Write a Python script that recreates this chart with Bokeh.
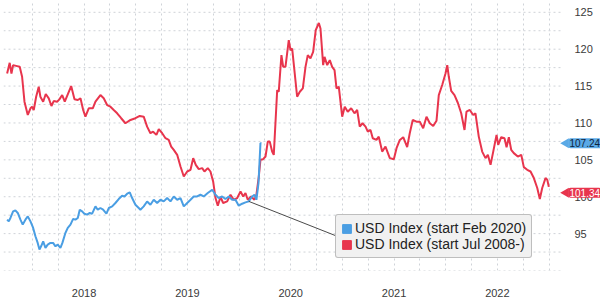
import math
from bokeh.plotting import figure
from bokeh.models import (FixedTicker, Range1d, Legend, LegendItem, Label, Arrow,
                          CustomJSTickFormatter)
from bokeh.core.properties import value
from bokeh.embed import file_html
from bokeh.resources import INLINE

# ---------------- data (decimal years, index level) ----------------
red_x = [2017.755, 2017.780, 2017.797, 2017.813, 2017.852, 2017.877, 2017.900, 2017.923, 2017.955, 2017.981,
         2017.997, 2018.013, 2018.036, 2018.061, 2018.077, 2018.104, 2018.129, 2018.158, 2018.184, 2018.206,
         2018.239, 2018.261, 2018.288, 2018.313, 2018.346, 2018.375, 2018.407, 2018.439, 2018.465, 2018.491,
         2018.513, 2018.545, 2018.584, 2018.610, 2018.658, 2018.690, 2018.723, 2018.755, 2018.787, 2018.820,
         2018.859, 2018.900, 2018.949, 2018.997, 2019.039, 2019.077, 2019.110, 2019.142, 2019.168, 2019.200,
         2019.223, 2019.256, 2019.288, 2019.319, 2019.343, 2019.368, 2019.401, 2019.433, 2019.465, 2019.498,
         2019.530, 2019.556, 2019.581, 2019.610, 2019.643, 2019.665, 2019.697, 2019.723, 2019.749, 2019.772,
         2019.794, 2019.820, 2019.846, 2019.885, 2019.917, 2019.949, 2019.982, 2020.014, 2020.040, 2020.062,
         2020.084, 2020.117, 2020.149, 2020.168, 2020.191, 2020.207, 2020.233, 2020.256, 2020.278, 2020.297,
         2020.320, 2020.336, 2020.369, 2020.384, 2020.410, 2020.427, 2020.449, 2020.481, 2020.498, 2020.514,
         2020.562, 2020.588, 2020.617, 2020.643, 2020.665, 2020.691, 2020.717, 2020.742, 2020.772, 2020.788,
         2020.814, 2020.827, 2020.853, 2020.878, 2020.901, 2020.924, 2020.943, 2020.965, 2020.998, 2021.023,
         2021.052, 2021.085, 2021.117, 2021.143, 2021.168, 2021.195, 2021.224, 2021.246, 2021.272, 2021.294,
         2021.330, 2021.352, 2021.385, 2021.417, 2021.459, 2021.498, 2021.524, 2021.556, 2021.589, 2021.627,
         2021.652, 2021.681, 2021.717, 2021.749, 2021.782, 2021.814, 2021.846, 2021.879, 2021.911, 2021.933,
         2021.966, 2021.998, 2022.015, 2022.030, 2022.053, 2022.085, 2022.117, 2022.150, 2022.182, 2022.201,
         2022.233, 2022.266, 2022.288, 2022.320, 2022.353, 2022.385, 2022.408, 2022.434, 2022.460, 2022.492,
         2022.508, 2022.537, 2022.569, 2022.589, 2022.611, 2022.634, 2022.659, 2022.698, 2022.731, 2022.756,
         2022.789, 2022.821, 2022.853, 2022.886, 2022.911, 2022.934, 2022.966, 2022.983, 2022.998]
red_y = [116.70, 118.15, 116.70, 117.84, 117.70, 117.61, 116.26, 112.88, 111.08, 111.99,
         112.20, 111.76, 113.55, 114.91, 113.55, 112.88, 113.92, 113.34, 112.30, 112.97,
         112.88, 113.20, 113.78, 112.88, 114.01, 115.00, 113.20, 113.11, 113.34, 111.76,
         110.85, 111.99, 111.99, 112.88, 113.78, 113.34, 112.43, 112.20, 111.76, 111.31,
         110.64, 109.96, 110.41, 110.64, 110.95, 110.85, 109.50, 108.61, 108.82, 108.38,
         109.15, 108.61, 107.93, 107.70, 106.80, 106.35, 105.68, 104.09, 102.74, 103.42,
         103.65, 105.23, 104.32, 103.74, 103.88, 103.42, 103.88, 103.42, 102.07, 99.82,
         98.78, 99.96, 99.15, 99.37, 100.27, 99.59, 99.82, 100.72, 100.04, 100.50,
         99.59, 100.04, 99.59, 100.27, 102.74, 105.00, 105.09, 105.45, 107.47, 107.47,
         106.12, 105.68, 114.46, 114.23, 119.19, 117.61, 117.61, 121.22, 119.86, 120.09,
         113.55, 114.23, 114.69, 117.61, 119.19, 118.74, 119.64, 122.57, 123.55, 122.80,
         117.84, 118.96, 117.84, 118.51, 117.61, 117.16, 114.69, 114.91, 110.85, 112.20,
         111.53, 111.99, 111.31, 111.76, 109.50, 109.96, 109.50, 108.82, 109.05, 107.93,
         107.70, 108.15, 106.12, 106.80, 105.23, 105.09, 106.58, 107.70, 108.07, 106.72,
         108.61, 110.41, 110.18, 110.18, 109.28, 110.85, 109.96, 109.59, 110.31, 113.78,
         115.14, 116.70, 117.84, 116.26, 114.36, 113.78, 112.74, 111.31, 109.05, 111.53,
         111.76, 111.08, 111.31, 108.15, 106.12, 105.23, 105.68, 104.32, 106.12, 108.38,
         107.03, 108.07, 107.93, 106.72, 108.07, 106.35, 105.91, 105.45, 105.68, 104.01,
         103.65, 103.42, 102.53, 101.18, 99.69, 101.18, 102.53, 102.30, 101.34]

blue_x = [2017.755, 2017.771, 2017.787, 2017.813, 2017.835, 2017.858, 2017.884, 2017.906, 2017.932, 2017.955,
          2017.981, 2018.007, 2018.029, 2018.051, 2018.068, 2018.084, 2018.104, 2018.126, 2018.148, 2018.174,
          2018.200, 2018.223, 2018.245, 2018.271, 2018.290, 2018.319, 2018.342, 2018.368, 2018.394, 2018.416,
          2018.439, 2018.458, 2018.481, 2018.503, 2018.530, 2018.555, 2018.578, 2018.610, 2018.632, 2018.658,
          2018.684, 2018.716, 2018.739, 2018.772, 2018.803, 2018.835, 2018.868, 2018.891, 2018.917, 2018.942,
          2018.965, 2018.997, 2019.029, 2019.045, 2019.077, 2019.110, 2019.142, 2019.174, 2019.207, 2019.239,
          2019.271, 2019.304, 2019.336, 2019.368, 2019.401, 2019.433, 2019.465, 2019.498, 2019.530, 2019.561,
          2019.594, 2019.626, 2019.658, 2019.697, 2019.740, 2019.772, 2019.803, 2019.836, 2019.868, 2019.900,
          2019.933, 2019.965, 2019.997, 2020.030, 2020.062, 2020.094, 2020.127, 2020.149, 2020.168, 2020.188,
          2020.207, 2020.217]
blue_y = [96.89, 96.66, 97.12, 98.01, 98.15, 97.80, 96.89, 96.22, 96.89, 97.34,
          96.66, 95.77, 94.64, 93.74, 92.84, 93.28, 93.96, 93.07, 93.51, 93.74,
          93.74, 93.28, 93.51, 93.07, 93.74, 95.09, 95.77, 96.22, 96.99, 96.89,
          97.12, 98.24, 98.01, 97.70, 97.57, 97.80, 97.70, 98.69, 98.24, 98.47,
          98.24, 97.70, 98.47, 98.69, 99.15, 99.69, 100.14, 100.04, 100.41, 100.58,
          99.82, 98.92, 98.47, 98.24, 98.69, 99.36, 98.92, 99.59, 99.15, 99.59,
          99.37, 99.82, 99.37, 100.04, 99.59, 99.82, 98.69, 99.15, 99.59, 100.04,
          100.04, 100.27, 100.04, 100.50, 100.95, 100.27, 99.82, 100.04, 99.69, 100.04,
          99.59, 99.59, 98.78, 99.05, 99.23, 99.37, 100.04, 100.27, 99.59, 101.85,
          107.26, 107.24]

series_labels = ["USD Index (start Feb 2020)", "USD Index (start Jul 2008-)"]
last_values = ["107.24", "101.34"]
year_ticks = [2018.5, 2019.5, 2020.5, 2021.5, 2022.5]
y_ticks = [95, 100, 105, 110, 115, 120, 125]
y_tick_labels = ["95", "100", "105", "110", "115", "120", "125"]

BLUE = "#4a9ee3"
RED = "#e8354d"
FONT = "Liberation Sans"
GRID = "#cfd3d8"

W, H = 600, 302
LEFT, BOTTOM = 3, 32
X0 = 2017.72          # left edge of the plotting area
XG = 2023.14          # right end of the grid (value-axis side)
PX_PER_YEAR = 103.32
PX_PER_UNIT = 7.38
X1 = X0 + (W - LEFT) / PX_PER_YEAR
Y0, Y1 = 90, 126.6

p = figure(width=W, height=H, output_backend="svg", toolbar_location=None,
           x_range=Range1d(X0, X1), y_range=Range1d(Y0, Y1),
           y_axis_location=None,
           min_border_left=LEFT, min_border_right=0, min_border_top=0, min_border_bottom=BOTTOM)
p.outline_line_color = None
p.background_fill_color = "white"
p.border_fill_color = "white"

# vertical grid (quarters)
p.xgrid.ticker = FixedTicker(ticks=[2018 + 0.25 * i for i in range(21)])
p.xgrid.grid_line_color = GRID
p.xgrid.grid_line_dash = "2 3"
p.xgrid.grid_line_width = 1
# horizontal grid, stopping at the value axis
p.ygrid.visible = False
hgrid = [90 + 2.5 * i for i in range(15)]
p.segment(x0=[X0] * len(hgrid), x1=[XG] * len(hgrid), y0=hgrid, y1=hgrid,
          line_color=GRID, line_width=1, line_dash="2 3")

# x axis: year labels centred on each year
p.xaxis.ticker = FixedTicker(ticks=year_ticks)
p.xaxis.formatter = CustomJSTickFormatter(code="return Math.floor(tick).toString();")
p.xaxis.axis_line_color = None
p.xaxis.major_tick_line_color = None
p.xaxis.minor_tick_line_color = None
p.xaxis.major_label_text_font = FONT
p.xaxis.major_label_text_font_size = "11px"
p.xaxis.major_label_text_color = "#3a3a3a"
p.xaxis.major_label_standoff = 12

# value axis labels on the right
p.text(x=[XG] * len(y_ticks), y=y_ticks, text=y_tick_labels, x_offset=11,
       text_baseline="middle", text_align="left", text_font=value(FONT),
       text_font_size="11px", text_color="#3a3a3a")

# lines
p.line(red_x, red_y, line_color=RED, line_width=2)
p.line(blue_x, blue_y, line_color=BLUE, line_width=2)

# connector from the series start to the legend
p.add_layout(Arrow(end=None, x_start=blue_x[85], y_start=blue_y[85],
                   x_end=2020.933, y_end=94.73, line_color="#4a4a4a", line_width=1))

# legend (square swatches; swatch renderers hold one point far below the visible range)
sq_b = p.quad(left=[blue_x[0]], right=[blue_x[1]], bottom=[Y0 - 60], top=[Y0 - 50],
              fill_color=BLUE, line_color=BLUE)
sq_r = p.quad(left=[red_x[0]], right=[red_x[1]], bottom=[Y0 - 60], top=[Y0 - 50],
              fill_color=RED, line_color=RED)
legend = Legend(items=[LegendItem(label=series_labels[0], renderers=[sq_b]),
                       LegendItem(label=series_labels[1], renderers=[sq_r])],
                location=(332, 12), orientation="vertical",
                background_fill_color="#f1f1f1", background_fill_alpha=1.0,
                border_line_color="#8c8c8c", border_line_width=1, border_radius=3,
                label_text_font=FONT, label_text_font_size="14px", label_text_color="#222222",
                glyph_width=11, glyph_height=11, label_height=16, label_standoff=3,
                spacing=0, padding=5, margin=0)
p.add_layout(legend)

# last value tags with a left-pointing tip
RED_TAG_SHIFT = 6  # px, the red tag sits slightly below its value
tip_x = XG + 2.5 / PX_PER_YEAR
p.scatter(x=[tip_x, tip_x], y=[blue_y[-1], red_y[-1] - RED_TAG_SHIFT / PX_PER_UNIT],
          marker="triangle", angle=math.pi / 2, size=10,
          fill_color=["#5aa9e6", RED], line_color=None)
p.add_layout(Label(x=XG, y=blue_y[-1], text=last_values[0], x_offset=5,
                   text_baseline="middle", text_align="left", text_font=FONT,
                   text_font_size="10px", text_color="#10243a",
                   background_fill_color="#5aa9e6", border_line_color=None,
                   padding=1, border_radius=2))
p.add_layout(Label(x=XG, y=red_y[-1], text=last_values[1], x_offset=5, y_offset=-RED_TAG_SHIFT,
                   text_baseline="middle", text_align="left", text_font=FONT,
                   text_font_size="10px", text_color="white",
                   background_fill_color=RED, border_line_color=None,
                   padding=1, border_radius=2))

open("out.html", "w").write(file_html(p, INLINE))
